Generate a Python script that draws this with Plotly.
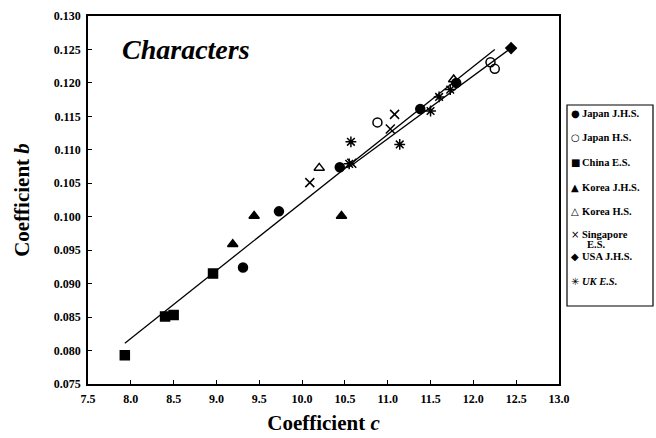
import plotly.graph_objects as go

# ---- data ----
japan_jhs_c = [9.31, 9.73, 10.44, 11.38, 11.80]
japan_jhs_b = [0.0924, 0.1008, 0.1074, 0.1161, 0.1200]

japan_hs_c = [10.88, 12.20, 12.25]
japan_hs_b = [0.1141, 0.1231, 0.1221]

china_es_c = [7.93, 8.40, 8.50, 8.96]
china_es_b = [0.0793, 0.0851, 0.0853, 0.0915]

korea_jhs_c = [9.19, 9.44, 10.46]
korea_jhs_b = [0.0959, 0.1001, 0.1001]

korea_hs_c = [10.20, 11.77]
korea_hs_b = [0.1073, 0.1205]

singapore_c = [10.09, 10.58, 11.03, 11.08]
singapore_b = [0.1051, 0.1080, 0.1131, 0.1153]

usa_jhs_c = [12.44]
usa_jhs_b = [0.1252]

uk_es_c = [10.55, 10.57, 11.14, 11.50, 11.60, 11.73]
uk_es_b = [0.1079, 0.1112, 0.1108, 0.1158, 0.1179, 0.1190]

fit1_c = [7.93, 12.25]
fit1_b = [0.0811, 0.1250]
fit2_c = [10.56, 12.44]
fit2_b = [0.1075, 0.1252]

xticks = [7.5, 8.0, 8.5, 9.0, 9.5, 10.0, 10.5, 11.0, 11.5, 12.0, 12.5, 13.0]
yticks = [0.075, 0.080, 0.085, 0.090, 0.095, 0.100, 0.105, 0.110, 0.115, 0.120, 0.125, 0.130]

legend_names = ["Japan J.H.S.", "Japan H.S.", "China E.S.", "Korea J.H.S.", "Korea H.S.",
                "Singapore|E.S.", "USA J.H.S.", "<i>UK E.S.</i>"]
legend_glyphs = ["●", "○", "■", "▲", "△", "×", "◆", "✳"]

FONT = "Liberation Serif"
W, H = 656, 438
ML, MR, MT, MB = 88, 97, 16, 54
PW, PH = W - ML - MR, H - MT - MB


def px_x(p):
    return (p - ML) / PW


def px_y(p):
    return (H - MB - p) / PH


fig = go.Figure()

fig.add_trace(go.Scatter(x=fit1_c, y=fit1_b, mode="lines", line=dict(color="black", width=1.3),
                         showlegend=False, hoverinfo="skip"))
fig.add_trace(go.Scatter(x=fit2_c, y=fit2_b, mode="lines", line=dict(color="black", width=1.3),
                         showlegend=False, hoverinfo="skip"))

series = [
    (legend_names[0], japan_jhs_c, japan_jhs_b, "circle", 9),
    (legend_names[1], japan_hs_c, japan_hs_b, "circle-open", 9),
    (legend_names[2], china_es_c, china_es_b, "square", 9),
    (legend_names[3], korea_jhs_c, korea_jhs_b, "triangle-up", 9),
    (legend_names[4], korea_hs_c, korea_hs_b, "triangle-up-open", 9),
    (legend_names[5], singapore_c, singapore_b, "x-thin-open", 9),
    (legend_names[6], usa_jhs_c, usa_jhs_b, "diamond", 8),
    (legend_names[7], uk_es_c, uk_es_b, "asterisk-open", 9),
]
for name, cx, by, sym, sz in series:
    fig.add_trace(go.Scatter(
        x=cx, y=by, mode="markers", name=name.replace("|", " "), showlegend=False,
        marker=dict(symbol=sym, size=sz, color="black",
                    line=dict(color="black", width=1.5)),
    ))

# title inside plot
fig.add_annotation(text="<b><i>Characters</i></b>", xref="paper", yref="paper",
                   x=0.068, y=0.908, xanchor="left", yanchor="middle", showarrow=False,
                   font=dict(family=FONT, size=28, color="black"))

# legend box (frame plus text entries)
fig.add_shape(type="rect", xref="paper", yref="paper",
              x0=px_x(567), x1=px_x(653), y0=px_y(306), y1=px_y(105),
              line=dict(color="black", width=1.2), fillcolor="white", layer="above")
entry_y = [113, 137, 162, 187, 212, 234, 256, 281]
for name, glyph, ey in zip(legend_names, legend_glyphs, entry_y):
    fig.add_annotation(text=glyph, xref="paper", yref="paper", x=px_x(575), y=px_y(ey),
                       xanchor="center", yanchor="middle", showarrow=False,
                       font=dict(family="DejaVu Sans", size=10, color="black"))
    parts = name.split("|")
    fig.add_annotation(text="<b>" + parts[0] + "</b>", xref="paper", yref="paper",
                       x=px_x(580), y=px_y(ey), xanchor="left", yanchor="middle",
                       showarrow=False, font=dict(family=FONT, size=10.5, color="black"))
    if len(parts) > 1:
        fig.add_annotation(text="<b>" + parts[1] + "</b>", xref="paper", yref="paper",
                           x=px_x(585), y=px_y(ey + 10), xanchor="left", yanchor="middle",
                           showarrow=False, font=dict(family=FONT, size=10.5, color="black"))

axis_common = dict(showline=True, linecolor="black", linewidth=1.5, mirror=True,
                   ticks="inside", ticklen=4, tickcolor="black", showgrid=False, zeroline=False,
                   automargin=False, ticklabelstandoff=3,
                   tickfont=dict(family=FONT, size=12, color="black"))

fig.update_layout(
    width=W, height=H,
    margin=dict(l=ML, r=MR, t=MT, b=MB),
    paper_bgcolor="white", plot_bgcolor="white",
    font=dict(family=FONT, color="black"),
    showlegend=False,
    xaxis=dict(range=[7.5, 13.0], tickvals=xticks, ticktext=[f"<b>{v:.1f}</b>" for v in xticks],
               title=dict(text="<b>Coefficient <i>c</i></b>", font=dict(family=FONT, size=21), standoff=10),
               **axis_common),
    yaxis=dict(range=[0.075, 0.130], tickvals=yticks, ticktext=[f"<b>{v:.3f}</b>" for v in yticks],
               title=dict(text="<b>Coefficient <i>b</i></b>", font=dict(family=FONT, size=21), standoff=18),
               **axis_common),
)

fig.write_html("out.html")
